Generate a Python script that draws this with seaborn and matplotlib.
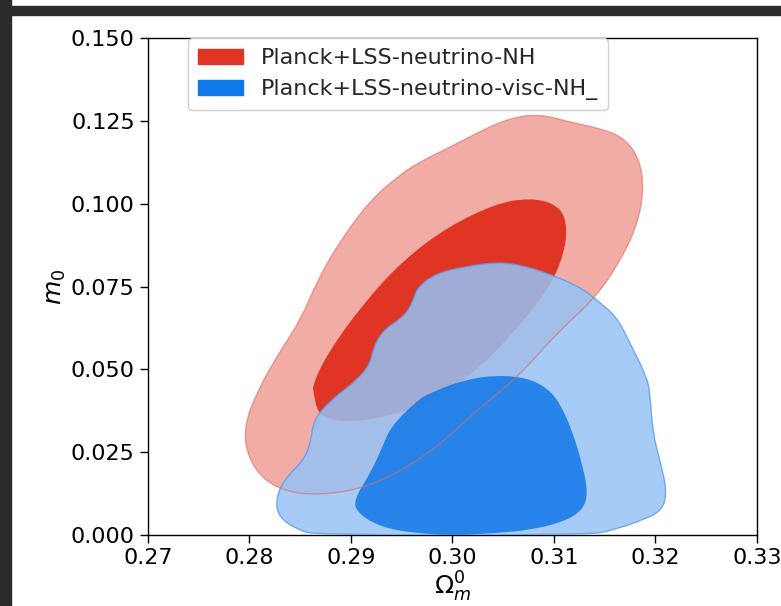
import matplotlib
matplotlib.use("Agg")
import matplotlib.pyplot as plt
import matplotlib.patches as mpatches
from matplotlib.path import Path
import seaborn as sns

# contour outlines (Omega_m^0, m_0)
red_outer_x = [0.27944, 0.27983, 0.28141, 0.28377, 0.28672, 0.29065, 0.29458, 0.29852,
               0.30274, 0.30648, 0.31031, 0.31385, 0.31621, 0.31818, 0.31887, 0.31848,
               0.31700, 0.31454, 0.31189, 0.30864, 0.30569, 0.30274, 0.29979, 0.29655,
               0.29458, 0.29193, 0.28898, 0.28672, 0.28504, 0.28308, 0.28082]
red_outer_y = [0.0326, 0.0235, 0.0166, 0.0130, 0.0121, 0.0136, 0.0187, 0.0266,
               0.0386, 0.0477, 0.0610, 0.0709, 0.0809, 0.0930, 0.1041, 0.1132,
               0.1198, 0.1228, 0.1244, 0.1271, 0.1259, 0.1219, 0.1171, 0.1123,
               0.1081, 0.1011, 0.0890, 0.0770, 0.0649, 0.0558, 0.0438]

red_inner_x = [0.28632, 0.28672, 0.28799, 0.28967, 0.29291, 0.29655, 0.29979, 0.30274,
               0.30599, 0.30864, 0.31031, 0.31130, 0.31110, 0.30992, 0.30766, 0.30441,
               0.29950, 0.29517, 0.29124, 0.28770, 0.28622]
red_inner_y = [0.0429, 0.0368, 0.0350, 0.0341, 0.0353, 0.0386, 0.0438, 0.0507,
               0.0610, 0.0709, 0.0791, 0.0890, 0.0966, 0.1002, 0.1017, 0.1002,
               0.0930, 0.0830, 0.0700, 0.0549, 0.0453]

blue_outer_x = [0.28672, 0.31356, 0.31582, 0.31877, 0.32074, 0.32113, 0.32044, 0.31975,
                0.31946, 0.31916, 0.31749, 0.31621, 0.31425, 0.31258, 0.30933, 0.30668,
                0.30441, 0.30107, 0.29852, 0.29655, 0.29606, 0.29517, 0.29321, 0.29222,
                0.29193, 0.29065, 0.28799, 0.28632, 0.28603, 0.28534, 0.28337, 0.28259,
                0.28288, 0.28475]
blue_outer_y = [0.0, 0.0, 0.0015, 0.0045, 0.0075, 0.0136, 0.0226, 0.0308,
                0.0429, 0.0477, 0.0580, 0.0658, 0.0709, 0.0749, 0.0791, 0.0815,
                0.0824, 0.0809, 0.0791, 0.0749, 0.0700, 0.0658, 0.0619, 0.0567,
                0.0519, 0.0468, 0.0407, 0.0347, 0.0278, 0.0226, 0.0166, 0.0106,
                0.0054, 0.0015]

blue_inner_x = [0.29026, 0.29065, 0.29291, 0.29616, 0.29950, 0.30107, 0.30441, 0.30766,
                0.31091, 0.31287, 0.31336, 0.31287, 0.31189, 0.31061, 0.30933, 0.30737,
                0.30441, 0.30107, 0.29783, 0.29655, 0.29390, 0.29311, 0.29193]
blue_inner_y = [0.0106, 0.0066, 0.0024, 0.0006, 0.0, 0.0, 0.0006, 0.0015,
                0.0039, 0.0075, 0.0127, 0.0205, 0.0308, 0.0398, 0.0444, 0.0474,
                0.0483, 0.0468, 0.0429, 0.0407, 0.0326, 0.0266, 0.0187]

labels = ["Planck+LSS-neutrino-NH", "Planck+LSS-neutrino-visc-NH_"]
x_ticks = [0.27, 0.28, 0.29, 0.30, 0.31, 0.32, 0.33]
y_ticks = [0.000, 0.025, 0.050, 0.075, 0.100, 0.125, 0.150]

RED_DARK, RED_LIGHT, BLUE_DARK, BLUE_LIGHT = sns.color_palette(
    ["#e03424", "#f1aca5", "#1078e8", "#96c2f5"])

sns.set_style("ticks")
plt.rcParams["font.family"] = ["DejaVu Sans"]


def smooth_path(xs, ys):
    # closed quadratic spline using the read points as control points
    pts = list(zip(xs, ys))
    n = len(pts)
    mids = [((pts[i][0] + pts[(i + 1) % n][0]) / 2, (pts[i][1] + pts[(i + 1) % n][1]) / 2)
            for i in range(n)]
    verts = [mids[-1]]
    codes = [Path.MOVETO]
    for i in range(n):
        verts += [pts[i], mids[i]]
        codes += [Path.CURVE3, Path.CURVE3]
    verts.append(mids[-1])
    codes.append(Path.CLOSEPOLY)
    return Path(verts, codes)


fig = plt.figure(figsize=(7.81, 6.06), dpi=100)
ax = fig.add_axes([0.1895, 0.1172, 0.7795, 0.8198])

red_outer = smooth_path(red_outer_x, red_outer_y)

# red (no viscosity)
ax.add_patch(mpatches.PathPatch(red_outer, facecolor=RED_LIGHT, lw=0, zorder=1))
ax.add_patch(mpatches.PathPatch(smooth_path(red_inner_x, red_inner_y),
                                facecolor=RED_DARK, lw=0, zorder=2))

# blue (viscous), semi transparent on top
ax.add_patch(mpatches.PathPatch(smooth_path(blue_outer_x, blue_outer_y),
                                facecolor=BLUE_LIGHT, edgecolor="#5d9fec",
                                lw=1.0, alpha=0.85, zorder=3))
ax.add_patch(mpatches.PathPatch(smooth_path(blue_inner_x, blue_inner_y),
                                facecolor=BLUE_DARK, lw=0, alpha=0.85, zorder=4))

# red outline shows through
ax.add_patch(mpatches.PathPatch(red_outer, facecolor="none", edgecolor="#e06a60",
                                lw=1.0, alpha=0.6, zorder=5))

ax.set_xlim(0.27, 0.33)
ax.set_ylim(0.0, 0.15)
ax.set_xticks(x_ticks)
ax.set_yticks(y_ticks)
ax.set_xticklabels([f"{v:.2f}" for v in x_ticks])
ax.set_yticklabels([f"{v:.3f}" for v in y_ticks])
ax.tick_params(labelsize=16, length=6, width=1, color="black", labelcolor="black")
for sp in ax.spines.values():
    sp.set_color("black")
    sp.set_linewidth(1.0)

ax.set_xlabel(r"$\Omega_m^0$", fontsize=18, labelpad=1, color="black")
ax.set_ylabel(r"$m_0$", fontsize=18, labelpad=2, color="black")

handles = [mpatches.Patch(color=RED_DARK), mpatches.Patch(color=BLUE_DARK)]
ax.legend(handles, labels, loc="upper left", bbox_to_anchor=(0.066, 1.0),
          borderaxespad=0, fontsize=16, frameon=True, framealpha=1.0,
          edgecolor="#d0d0d0", borderpad=0.45)

# screenshot frame
fig.patches.append(mpatches.Rectangle((0, 0), 11 / 781, 1, transform=fig.transFigure,
                                      color="#2b2b2b", zorder=10))
fig.patches.append(mpatches.Rectangle((0, 1 - 15 / 606), 1, 9 / 606,
                                      transform=fig.transFigure,
                                      color="#2b2b2b", zorder=10))

fig.savefig("out.png", dpi=100)
